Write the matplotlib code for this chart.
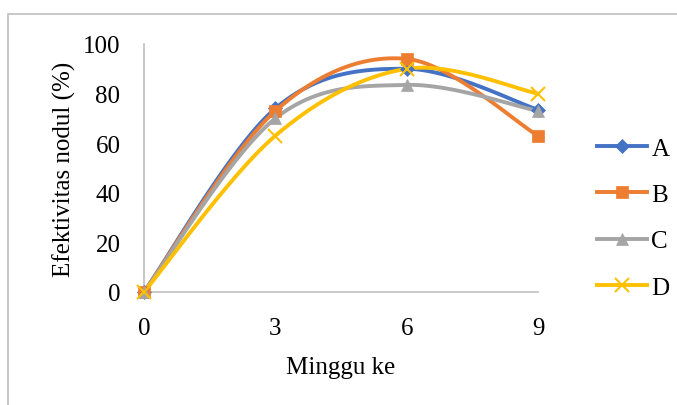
import numpy as np
import matplotlib.pyplot as plt
from matplotlib.lines import Line2D
from matplotlib.patches import Rectangle

plt.rcParams['font.family'] = ['Liberation Serif', 'DejaVu Serif']

minggu = [0, 3, 6, 9]
A = [0, 74, 90, 73.5]
B = [0, 73, 94, 63]
C = [0, 70, 83.5, 73]
D = [0, 63, 90, 80]
names = ['A', 'B', 'C', 'D']
colors = ['#4472C4', '#ED7D31', '#A5A5A5', '#FFC000']
markers = ['D', 's', '^', 'x']
msizes = [7, 9, 9, 10]


def smooth(x, y, n=40):
    # excel-like bezier smoothing
    p = np.column_stack([x, y]).astype(float)
    p = np.vstack([p[0], p, p[-1]])
    out = []
    t = np.linspace(0, 1, n)[:, None]
    for i in range(1, len(p) - 2):
        p0, p3 = p[i], p[i + 1]
        c1 = p0 + (p[i + 1] - p[i - 1]) / 6
        c2 = p3 - (p[i + 2] - p[i]) / 6
        seg = (1 - t)**3 * p0 + 3 * (1 - t)**2 * t * c1 + 3 * (1 - t) * t**2 * c2 + t**3 * p3
        out.append(seg)
    s = np.vstack(out)
    return s[:, 0], s[:, 1]


fig = plt.figure(figsize=(6.77, 4.06), dpi=100)
ax = fig.add_axes([144/677, 1 - 293/406, (538-144)/677, (293-45)/406])

fig.patches.append(Rectangle((8/677, -0.1), 1.2, 1 - 15/406 + 0.1, transform=fig.transFigure,
                             fill=False, edgecolor='#BFBFBF', linewidth=1.2))

handles = []
for vals, nm, c, m, ms in zip([A, B, C, D], names, colors, markers, msizes):
    sx, sy = smooth(minggu, vals)
    ax.plot(sx, sy, color=c, linewidth=2.8, solid_capstyle='round', clip_on=False, zorder=3)
    ax.plot(minggu, vals, linestyle='none', marker=m, color=c, markersize=ms,
            markeredgewidth=1.5 if m == 'x' else 0.5, clip_on=False, zorder=4)
    handles.append(Line2D([0], [0], color=c, linewidth=2.8, marker=m, markersize=ms,
                          markeredgewidth=1.5 if m == 'x' else 0.5))

ax.set_xlim(0, 9)
ax.set_ylim(0, 100)
ax.set_xticks(minggu)
ax.set_yticks([0, 20, 40, 60, 80, 100])
for s in ['top', 'right']:
    ax.spines[s].set_visible(False)
for s in ['left', 'bottom']:
    ax.spines[s].set_color('#BFBFBF')
    ax.spines[s].set_linewidth(1.2)
ax.tick_params(axis='both', length=0, labelsize=18, colors='black')
ax.tick_params(axis='y', pad=17)
ax.tick_params(axis='x', pad=18)

ax.set_xlabel('Minggu ke', fontsize=18, labelpad=12)
ax.set_ylabel('Efektivitas nodul (%)', fontsize=18, labelpad=5)

fig.legend(handles, names, loc='center left', bbox_to_anchor=(584/677, 1 - 219/406),
           frameon=False, fontsize=18, handlelength=2.0, handletextpad=0.2,
           labelspacing=0.95, borderpad=0)

fig.savefig('out.png', dpi=100)
